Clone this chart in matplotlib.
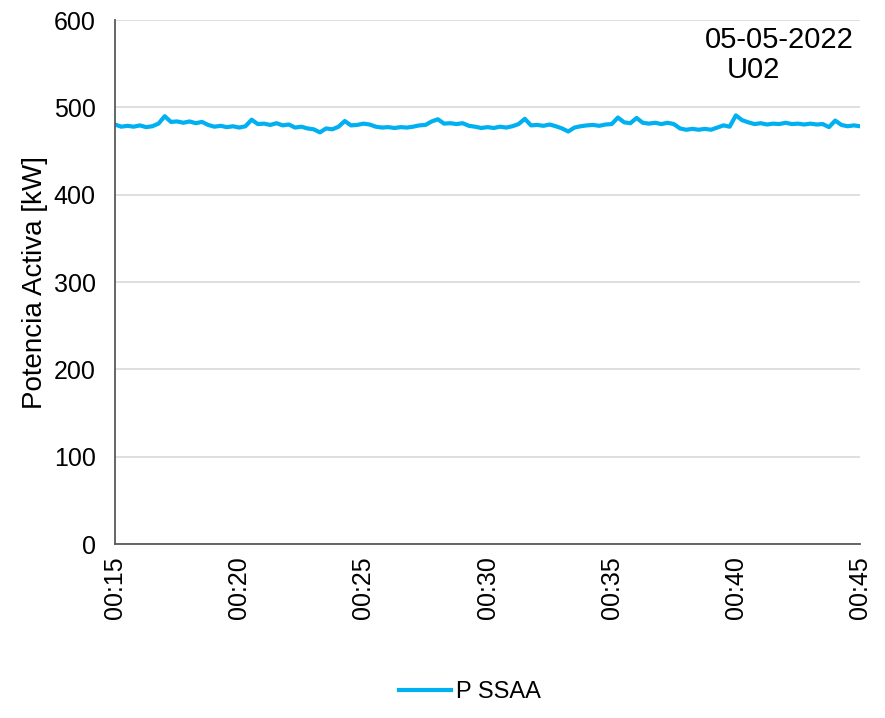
import pandas as pd
import numpy as np
import matplotlib
matplotlib.use("Agg")
import matplotlib.pyplot as plt
import matplotlib.dates as mdates

plt.rcParams['font.family'] = ['Liberation Sans', 'DejaVu Sans']

# potencia activa SSAA, una muestra cada 15 s de 00:15 a 00:45
p_min15 = [480.5, 478, 479, 478]
p_min16 = [479.5, 477.5, 478.5, 481.5]
p_min17 = [490, 483.5, 484, 482.5]
p_min18 = [484, 482, 483.5, 480]
p_min19 = [478, 479, 477.5, 478.5]
p_min20 = [477, 478.5, 486, 481]
p_min21 = [481.5, 480, 482, 479.5]
p_min22 = [480.5, 477, 478, 476]
p_min23 = [475, 471.5, 476, 475]
p_min24 = [478, 484.5, 479.5, 480]
p_min25 = [481.5, 480.5, 478, 477]
p_min26 = [477.5, 476.5, 477.5, 477]
p_min27 = [478, 479.5, 480, 484]
p_min28 = [486.5, 481.5, 482, 481]
p_min29 = [482, 479, 478, 476.5]
p_min30 = [477.5, 476.5, 478, 477]
p_min31 = [478.5, 481, 487, 479.5]
p_min32 = [480, 479, 480.5, 478.5]
p_min33 = [476, 472.5, 477, 478.5]
p_min34 = [479.5, 480, 479, 480.5]
p_min35 = [481, 488.5, 483, 482]
p_min36 = [488, 482.5, 481.5, 482.5]
p_min37 = [481, 482.5, 481, 476]
p_min38 = [474.5, 475.5, 474.5, 475.5]
p_min39 = [474.5, 477, 479.5, 478]
p_min40 = [491, 485.5, 483, 481]
p_min41 = [482, 480.5, 481.5, 481]
p_min42 = [482.5, 481, 481.5, 480.5]
p_min43 = [481.5, 480.5, 481, 477.5]
p_min44 = [485, 480, 478.5, 479.5]
p_min45 = [478.5]

p_ssaa = (p_min15 + p_min16 + p_min17 + p_min18 + p_min19 + p_min20 + p_min21
          + p_min22 + p_min23 + p_min24 + p_min25 + p_min26 + p_min27 + p_min28
          + p_min29 + p_min30 + p_min31 + p_min32 + p_min33 + p_min34 + p_min35
          + p_min36 + p_min37 + p_min38 + p_min39 + p_min40 + p_min41 + p_min42
          + p_min43 + p_min44 + p_min45)

t_ini = "2022-05-05 00:15:00"
t_fin = "2022-05-05 00:45:00"
tiempo = pd.date_range(t_ini, t_fin, periods=len(p_ssaa))

fig = plt.figure(figsize=(8.85, 7.18), dpi=100)
ax = fig.add_axes([0.130, 0.2423, 0.8418, 0.7296])

ax.plot(tiempo, p_ssaa, color="#00B0F0", linewidth=3, label="P SSAA")

ax.set_ylim(0, 600)
ax.set_yticks(np.arange(0, 601, 100))
ax.set_xlim(pd.Timestamp(t_ini), pd.Timestamp(t_fin))
ax.xaxis.set_major_locator(mdates.MinuteLocator(byminute=range(0, 60, 5)))
ax.xaxis.set_major_formatter(mdates.DateFormatter("%H:%M"))

ax.grid(axis="y", color="#d9d9d9", linewidth=1.2)
ax.set_axisbelow(True)
for lado in ["top", "right"]:
    ax.spines[lado].set_visible(False)
for lado in ["left", "bottom"]:
    ax.spines[lado].set_color("#595959")
    ax.spines[lado].set_linewidth(1.3)

ax.tick_params(axis="y", length=0, pad=14, labelsize=18)
ax.tick_params(axis="x", length=0, pad=9, labelsize=18, labelrotation=90)
ax.set_ylabel("Potencia Activa [kW]", fontsize=20, labelpad=4)

ax.text(0.792, 0.962, "05-05-2022", transform=ax.transAxes, fontsize=21,
        ha="left", va="center")
ax.text(0.821, 0.905, "U02", transform=ax.transAxes, fontsize=21,
        ha="left", va="center")

fig.legend(loc="center", bbox_to_anchor=(470 / 885, 1 - 692 / 718),
           frameon=False, fontsize=17, handlelength=2.2, handletextpad=0.2)

fig.savefig("out.png", dpi=100)
